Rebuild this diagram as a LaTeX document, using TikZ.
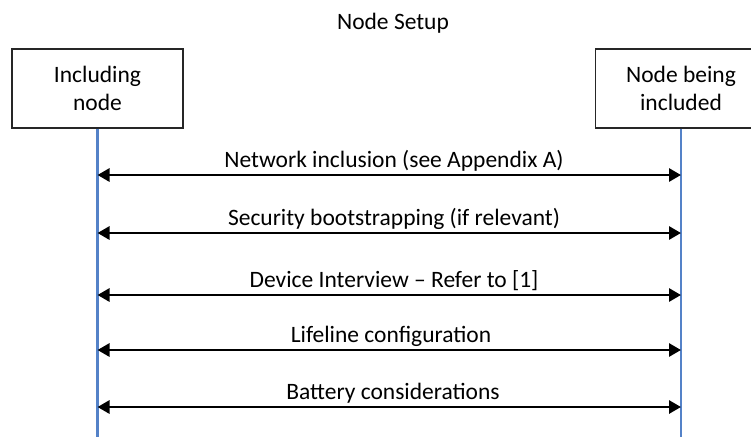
\documentclass[tikz,border=0pt]{standalone}
\usepackage{fontspec}
\setmainfont{Carlito}
\usepackage{tikz}
\usetikzlibrary{arrows.meta}
\definecolor{lifeblue}{RGB}{84,130,200}
\tikzstyle{box}=[rectangle,fill=white,minimum width=171pt,minimum height=79pt,inner sep=0pt,line width=1.4pt,draw=black!85,align=center,anchor=center]
\tikzstyle{annot} = [align=center,anchor=base,inner sep=0pt]
\tikzstyle{lifeline} = [line width=2.4pt,draw=lifeblue]
\tikzstyle{msg} = [line width=2.8pt,draw=black,{Triangle[length=12pt,width=13pt]}-{Triangle[length=12pt,width=13pt]}]

\begin{document}
\begin{tikzpicture}[x=1pt,y=-1pt]
	\useasboundingbox (0,0) rectangle (751,437);
	\fontsize{23.5}{28}\selectfont

	\node[annot](title) at (393,29){Node Setup};

	\node[box](incl) at (97.5,88.5){Including\\node};
	\node[box](newnode) at (681,88.5){Node being\\included};

	\coordinate (inclend) at (97.5,437);
	\coordinate (newend) at (681,437);
	\draw[lifeline] (incl.south) -- (inclend);
	\draw[lifeline] (newnode.south) -- (newend);

	\coordinate (a1) at (97.5,175);	\coordinate (b1) at (681,175);
	\coordinate (a2) at (97.5,233);	\coordinate (b2) at (681,233);
	\coordinate (a3) at (97.5,295);	\coordinate (b3) at (681,295);
	\coordinate (a4) at (97.5,350);	\coordinate (b4) at (681,350);
	\coordinate (a5) at (97.5,407);	\coordinate (b5) at (681,407);

	\draw[msg] (a1) -- (b1);
	\draw[msg] (a2) -- (b2);
	\draw[msg] (a3) -- (b3);
	\draw[msg] (a4) -- (b4);
	\draw[msg] (a5) -- (b5);

	\node[annot](inclusion) at (394,167){Network inclusion (see Appendix A)};
	\node[annot](security) at (394,225){Security bootstrapping (if relevant)};
	\node[annot](interview) at (394,287){Device Interview -- Refer to [1]};
	\node[annot](lifeline) at (391,342){Lifeline configuration};
	\node[annot](battery) at (393,399){Battery considerations};

\end{tikzpicture}
\end{document}
